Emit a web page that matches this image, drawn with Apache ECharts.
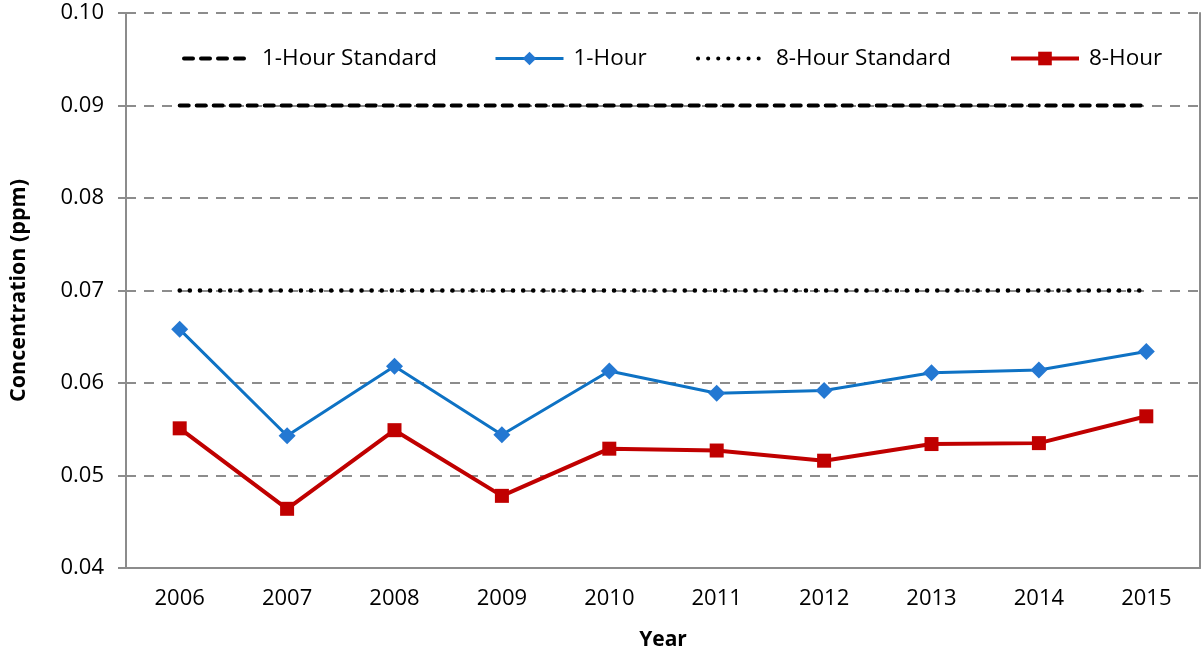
<!DOCTYPE html>
<html><head><meta charset="utf-8">
<script src="https://cdn.jsdelivr.net/npm/echarts@6/dist/echarts.min.js"></script>
<style>html,body{margin:0;padding:0;background:#fff}#c{width:1202px;height:656px}</style>
</head><body><div id="c"></div>
<script>
const years = ['2006','2007','2008','2009','2010','2011','2012','2013','2014','2015'];
const oneHour = [0.0658,0.0543,0.0618,0.0544,0.0613,0.0589,0.0592,0.0611,0.0614,0.0634];
const eightHour = [0.0551,0.0464,0.0549,0.0478,0.0529,0.0527,0.0516,0.0534,0.0535,0.0564];
const oneHourStd = [0.09,0.09,0.09,0.09,0.09,0.09,0.09,0.09,0.09,0.09];
const eightHourStd = [0.07,0.07,0.07,0.07,0.07,0.07,0.07,0.07,0.07,0.07];
const yTicks = ['0.04','0.05','0.06','0.07','0.08','0.09','0.10'];

const font = 'Open Sans';
const legText = {fontFamily:font,fontSize:22.5,color:'#000',padding:[0,0,0,5]};
function leg(name,left,hideSym,lw){
  const item = {name:name};
  if(hideSym){ item.itemStyle = {opacity:0}; }
  return {top:42,left:left,itemWidth:68,itemHeight:17,itemGap:0,textStyle:legText,
    lineStyle:{width:lw},data:[item]};
}
const chart = echarts.init(document.getElementById('c'));
chart.setOption({
  animation:false,
  textStyle:{fontFamily:font},
  grid:{left:120,right:2,top:13,bottom:82,containLabel:false},
  legend:[
    leg('1-Hour Standard',177,true,4),
    leg('1-Hour',489,false,3),
    leg('8-Hour Standard',691,true,4),
    leg('8-Hour',1004,false,4)
  ],
  xAxis:{
    type:'category',data:years,boundaryGap:true,
    name:'Year',nameLocation:'middle',nameGap:62,
    nameTextStyle:{fontFamily:font,fontSize:21,fontWeight:'bold',color:'#000'},
    axisLine:{lineStyle:{color:'#8c8c8c',width:2}},
    axisTick:{alignWithLabel:true,length:8,lineStyle:{color:'#8c8c8c',width:2}},
    axisLabel:{fontFamily:font,fontSize:22,color:'#000',margin:20}
  },
  yAxis:[{
    type:'value',min:0.04,max:0.10,interval:0.01,
    name:'Concentration (ppm)',nameLocation:'middle',nameGap:96,
    nameTextStyle:{fontFamily:font,fontSize:21.5,fontWeight:'bold',color:'#000'},
    axisLine:{show:true,lineStyle:{color:'#8c8c8c',width:2}},
    axisTick:{show:true,length:8,lineStyle:{color:'#8c8c8c',width:2}},
    axisLabel:{fontFamily:font,fontSize:22,color:'#000',margin:22,
      formatter:function(v){const s=v.toFixed(2);return yTicks.indexOf(s)>=0?s:'';}},
    splitLine:{show:true,lineStyle:{color:'#8c8c8c',width:2,type:[10,8]}}
  },{
    type:'value',min:0.04,max:0.10,interval:0.01,position:'right',
    axisLine:{show:true,lineStyle:{color:'#8c8c8c',width:2}},
    axisTick:{show:false},axisLabel:{show:false},splitLine:{show:false}
  }],
  series:[
    {name:'1-Hour Standard',type:'line',data:oneHourStd,symbol:'none',z:3,
     lineStyle:{color:'#000',width:4,type:[9,8],cap:'round'},itemStyle:{color:'#000'}},
    {name:'1-Hour',type:'line',data:oneHour,symbol:'diamond',symbolSize:17,
     lineStyle:{color:'#0E72C4',width:3},itemStyle:{color:'#2478D2'}},
    {name:'8-Hour Standard',type:'line',data:eightHourStd,symbol:'none',z:3,
     lineStyle:{color:'#000',width:4.5,type:[0.1,10],cap:'round'},itemStyle:{color:'#000'}},
    {name:'8-Hour',type:'line',data:eightHour,symbol:'rect',symbolSize:14,
     lineStyle:{color:'#C00000',width:4},itemStyle:{color:'#C00000'}}
  ]
});
</script></body></html>
